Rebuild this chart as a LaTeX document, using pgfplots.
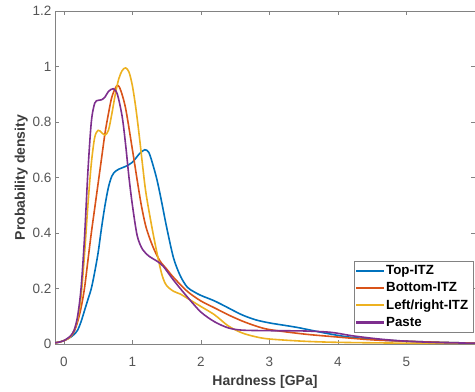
\documentclass[border=0pt]{standalone}
\usepackage{pgfplots}
\pgfplotsset{compat=1.18}
\usepackage{fontspec}
\setmainfont{Liberation Sans}
\definecolor{mblue}{rgb}{0,0.447,0.741}
\definecolor{morange}{rgb}{0.85,0.325,0.098}
\definecolor{myellow}{rgb}{0.929,0.694,0.125}
\definecolor{mpurple}{rgb}{0.494,0.184,0.556}
\definecolor{axgray}{RGB}{130,130,130}
\definecolor{txtgray}{RGB}{85,85,85}
\begin{document}
\begin{tikzpicture}[x=1pt,y=1pt]
\begin{axis}[
  scale only axis, width=420pt, height=333pt,
  xmin=-0.13, xmax=6, ymin=0, ymax=1.2,
  xtick={0,1,2,3,4,5,6}, xticklabels={0,1,2,3,4,5,},
  ytick={0,0.2,0.4,0.6,0.8,1,1.2},
  yticklabel style={/pgf/number format/fixed},
  /pgf/number format/assume math mode=true,
  tick align=inside, major tick length=4pt,
  axis line style={axgray, line width=0.8pt},
  tick style={axgray, line width=0.6pt},
  ticklabel style={font=\fontsize{13.5}{15}\selectfont, text=txtgray},
  xticklabel style={yshift=-10pt},
  xlabel={Hardness [GPa]}, ylabel={Probability density},
  label style={font=\bfseries\fontsize{14}{16}\selectfont, text=txtgray!70!black},
  xlabel style={yshift=-1.5pt},
  ylabel style={yshift=-2pt},
  legend style={at={(rel axis cs:0.995,0.036)}, anchor=south east,
    font=\bfseries\fontsize{13.3}{15}\selectfont, draw=axgray,
    inner xsep=2.5pt, inner ysep=2pt, row sep=2.5pt, cells={anchor=west}},
  legend image code/.code={\fill[#1, draw=none] (0pt,-1.05pt) rectangle (28pt,1.05pt);},
  clip=true,
]
\addplot[mblue, line width=1.6pt, smooth, tension=0.5] coordinates {
(-0.13,0.004) (-0.05,0.008) (0,0.012) (0.05,0.018) (0.1,0.025) (0.15,0.035) (0.2,0.05) (0.25,0.08) (0.3,0.12) (0.35,0.16) (0.4,0.2) (0.45,0.26) (0.5,0.33) (0.55,0.42) (0.6,0.5) (0.65,0.565) (0.7,0.605) (0.75,0.622) (0.8,0.63) (0.9,0.64) (1.0,0.655) (1.1,0.685) (1.18,0.70) (1.24,0.69) (1.3,0.645) (1.36,0.59) (1.42,0.52) (1.5,0.42) (1.6,0.31) (1.7,0.245) (1.8,0.205) (1.9,0.188) (2.0,0.175) (2.2,0.155) (2.4,0.13) (2.6,0.105) (2.8,0.087) (3.0,0.076) (3.2,0.068) (3.4,0.06) (3.6,0.05) (3.8,0.04) (4.0,0.031) (4.2,0.024) (4.6,0.015) (5.0,0.01) (5.5,0.006) (6,0.003)
};
\addlegendentry{Top-ITZ}
\addplot[morange, line width=1.6pt, smooth, tension=0.5] coordinates {
(-0.13,0.004) (-0.05,0.008) (0,0.012) (0.05,0.018) (0.1,0.027) (0.15,0.045) (0.2,0.08) (0.25,0.13) (0.3,0.2) (0.35,0.3) (0.4,0.4) (0.45,0.49) (0.5,0.58) (0.55,0.67) (0.6,0.76) (0.65,0.83) (0.7,0.89) (0.77,0.93) (0.82,0.92) (0.9,0.85) (1.0,0.7) (1.07,0.59) (1.13,0.5) (1.2,0.42) (1.3,0.35) (1.4,0.3) (1.5,0.27) (1.6,0.24) (1.8,0.19) (2.0,0.155) (2.2,0.13) (2.4,0.105) (2.6,0.083) (2.8,0.065) (3.0,0.052) (3.5,0.036) (4.0,0.025) (4.5,0.015) (5.0,0.01) (5.5,0.006) (6,0.003)
};
\addlegendentry{Bottom-ITZ}
\addplot[myellow, line width=1.6pt, smooth, tension=0.5] coordinates {
(-0.13,0.004) (-0.05,0.008) (0,0.012) (0.05,0.018) (0.1,0.028) (0.15,0.05) (0.2,0.09) (0.25,0.17) (0.3,0.32) (0.35,0.5) (0.4,0.65) (0.45,0.745) (0.5,0.77) (0.55,0.762) (0.6,0.753) (0.65,0.77) (0.7,0.83) (0.75,0.9) (0.8,0.955) (0.85,0.985) (0.9,0.995) (0.95,0.98) (1.0,0.93) (1.05,0.85) (1.1,0.75) (1.15,0.64) (1.2,0.54) (1.3,0.4) (1.4,0.28) (1.45,0.235) (1.5,0.21) (1.6,0.19) (1.7,0.18) (1.8,0.165) (2.0,0.135) (2.2,0.105) (2.4,0.065) (2.6,0.04) (2.8,0.026) (3.0,0.018) (3.5,0.01) (4.0,0.006) (5.0,0.003) (6,0.002)
};
\addlegendentry{Left/right-ITZ}
\addplot[mpurple, line width=1.6pt, smooth, tension=0.5] coordinates {
(-0.13,0.004) (-0.05,0.008) (0,0.012) (0.05,0.02) (0.1,0.03) (0.15,0.05) (0.2,0.1) (0.25,0.2) (0.3,0.38) (0.35,0.62) (0.4,0.8) (0.45,0.868) (0.5,0.878) (0.55,0.88) (0.6,0.89) (0.65,0.91) (0.72,0.92) (0.78,0.9) (0.85,0.82) (0.9,0.72) (0.95,0.6) (1.0,0.5) (1.07,0.39) (1.15,0.34) (1.25,0.315) (1.35,0.3) (1.45,0.28) (1.6,0.23) (1.8,0.17) (2.0,0.115) (2.2,0.08) (2.4,0.058) (2.6,0.05) (3.0,0.048) (3.5,0.047) (3.9,0.042) (4.2,0.03) (4.6,0.018) (5.0,0.01) (5.5,0.005) (6,0.003)
};
\addlegendentry{Paste}
\end{axis}
\pgfresetboundingbox
\path (current axis.south west) ++(-55pt,-47pt) coordinate (bbA);
\path (current axis.north east) ++(0pt,11pt) coordinate (bbB);
\useasboundingbox (bbA) rectangle (bbB);
\end{tikzpicture}
\end{document}
